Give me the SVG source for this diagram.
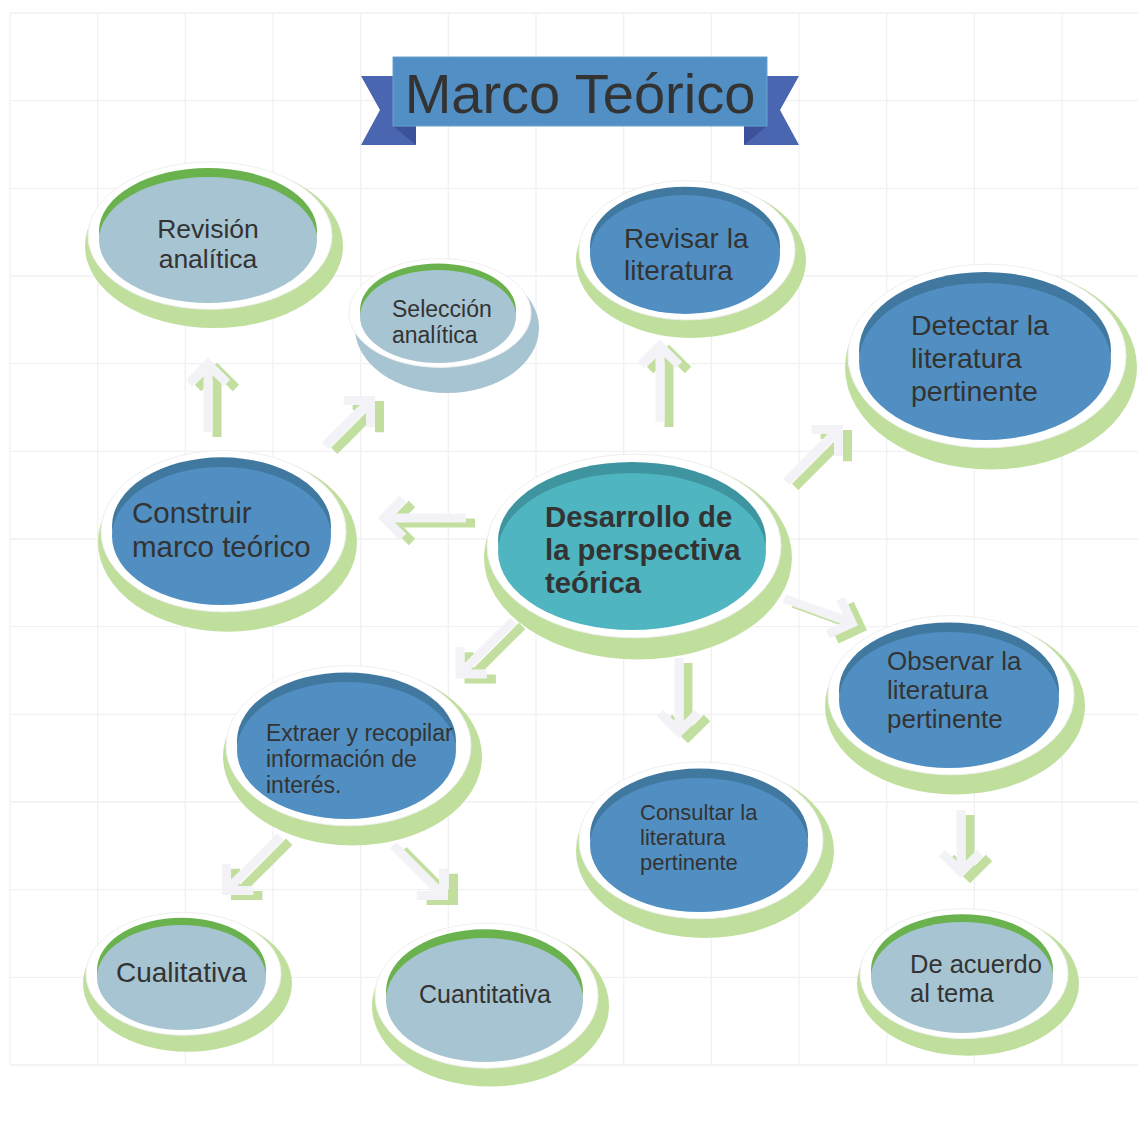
<svg xmlns="http://www.w3.org/2000/svg" width="1138" height="1147" viewBox="0 0 1138 1147">
<style>
.grid line{stroke:#f1f1f3;stroke-width:1.3}
.sh{fill:#c0df9d}
.shb{fill:#a7c4d2}
.wh{fill:#ffffff;stroke:#efefef;stroke-width:1}
.cl{fill:#6ab24e}
.fl{fill:#a7c4d2}
.cb{fill:#41789f}
.fb{fill:#518fc2}
.ct{fill:#3e959f}
.ft{fill:#4fb5c0}
text{font-family:"Liberation Sans",Arial,sans-serif;fill:#333333}
.b{font-weight:bold}
.aw{fill:none;stroke:#f3f3f7;stroke-width:9;stroke-linejoin:miter}
.ag{fill:none;stroke:#c2df9f;stroke-width:9;stroke-linejoin:miter}
</style>
<rect width="1138" height="1147" fill="#ffffff"/>
<g class="grid">
<line x1="10" y1="13" x2="10" y2="1065"/><line x1="97.7" y1="13" x2="97.7" y2="1065"/><line x1="185.3" y1="13" x2="185.3" y2="1065"/><line x1="273" y1="13" x2="273" y2="1065"/><line x1="360.7" y1="13" x2="360.7" y2="1065"/><line x1="448.3" y1="13" x2="448.3" y2="1065"/><line x1="536" y1="13" x2="536" y2="1065"/><line x1="623.7" y1="13" x2="623.7" y2="1065"/><line x1="711.3" y1="13" x2="711.3" y2="1065"/><line x1="799" y1="13" x2="799" y2="1065"/><line x1="886.7" y1="13" x2="886.7" y2="1065"/><line x1="974.3" y1="13" x2="974.3" y2="1065"/><line x1="1062" y1="13" x2="1062" y2="1065"/>
<line x1="10" y1="13" x2="1138" y2="13"/><line x1="10" y1="100.7" x2="1138" y2="100.7"/><line x1="10" y1="188.3" x2="1138" y2="188.3"/><line x1="10" y1="276" x2="1138" y2="276"/><line x1="10" y1="363.7" x2="1138" y2="363.7"/><line x1="10" y1="451.3" x2="1138" y2="451.3"/><line x1="10" y1="539" x2="1138" y2="539"/><line x1="10" y1="626.7" x2="1138" y2="626.7"/><line x1="10" y1="714.3" x2="1138" y2="714.3"/><line x1="10" y1="802" x2="1138" y2="802"/><line x1="10" y1="889.7" x2="1138" y2="889.7"/><line x1="10" y1="977.3" x2="1138" y2="977.3"/><line x1="10" y1="1065" x2="1138" y2="1065"/>
</g>
<g id="title">
<polygon points="361,76 416,76 416,145 361,145 380,110" fill="#4a66b0"/>
<polygon points="393,126 416,126 416,145" fill="#3b529a"/>
<polygon points="799,76 744,76 744,145 799,145 780,110" fill="#4a66b0"/>
<polygon points="767,126 744,126 744,145" fill="#3b529a"/>
<rect x="393" y="57" width="374" height="69" fill="#518fc4" stroke="#6aa2cf" stroke-width="1"/>
<text x="580" y="113" font-size="56" text-anchor="middle">Marco Teórico</text>
</g>
<g id="n-revision">
<ellipse class="sh" cx="214" cy="246" rx="129" ry="82"/>
<ellipse class="wh" cx="210" cy="235.6" rx="122" ry="73.7"/>
<ellipse class="cl" cx="208" cy="231" rx="109" ry="63"/>
<ellipse class="fl" cx="208" cy="240" rx="109" ry="63"/>
<text font-size="26.5" text-anchor="middle"><tspan x="208" y="238">Revisión</tspan><tspan x="208" y="268">analítica</tspan></text>
</g>
<g id="n-seleccion">
<ellipse class="shb" cx="447" cy="328" rx="92" ry="65"/>
<ellipse class="wh" cx="440" cy="313" rx="91" ry="54.4"/>
<ellipse class="cl" cx="438" cy="310" rx="78" ry="46.5"/>
<ellipse class="fl" cx="438" cy="316.5" rx="78" ry="46.5"/>
<text font-size="23"><tspan x="392" y="317">Selección</tspan><tspan x="392" y="343">analítica</tspan></text>
</g>
<g id="n-revisar">
<ellipse class="sh" cx="691" cy="260.5" rx="115" ry="77.4"/>
<ellipse class="wh" cx="687" cy="250.3" rx="108" ry="69.6"/>
<ellipse class="cb" cx="685" cy="246.2" rx="95" ry="59.5"/>
<ellipse class="fb" cx="685" cy="254.5" rx="95" ry="59.5"/>
<text font-size="28"><tspan x="624" y="248">Revisar la</tspan><tspan x="624" y="280">literatura</tspan></text>
</g>
<g id="n-detectar">
<ellipse class="sh" cx="991" cy="367.5" rx="146" ry="102"/>
<ellipse class="wh" cx="987" cy="356" rx="139" ry="91.8"/>
<ellipse class="cb" cx="985" cy="350.5" rx="126" ry="78.5"/>
<ellipse class="fb" cx="985" cy="361.5" rx="126" ry="78.5"/>
<text font-size="28.5"><tspan x="911" y="335">Detectar la</tspan><tspan x="911" y="368">literatura</tspan><tspan x="911" y="401">pertinente</tspan></text>
</g>
<g id="n-construir">
<ellipse class="sh" cx="227.5" cy="542" rx="129.5" ry="89.7"/>
<ellipse class="wh" cx="223.5" cy="531.2" rx="122.5" ry="80.7"/>
<ellipse class="cb" cx="221.5" cy="526.3" rx="109.5" ry="69"/>
<ellipse class="fb" cx="221.5" cy="536" rx="109.5" ry="69"/>
<text font-size="29.5"><tspan x="132" y="523">Construir</tspan><tspan x="132" y="557">marco teórico</tspan></text>
</g>
<g id="n-centro">
<ellipse class="sh" cx="638" cy="557.5" rx="154" ry="102"/>
<ellipse class="wh" cx="634" cy="546" rx="147" ry="91.8"/>
<ellipse class="ct" cx="632" cy="540.5" rx="134" ry="78.5"/>
<ellipse class="ft" cx="632" cy="551.5" rx="134" ry="78.5"/>
<text class="b" font-size="29.3"><tspan x="545" y="527">Desarrollo de</tspan><tspan x="545" y="560">la perspectiva</tspan><tspan x="545" y="593">teórica</tspan></text>
</g>
<g id="n-observar">
<ellipse class="sh" cx="955" cy="706" rx="130" ry="88.4"/>
<ellipse class="wh" cx="951" cy="695.2" rx="123" ry="79.6"/>
<ellipse class="cb" cx="949" cy="690.5" rx="110" ry="68"/>
<ellipse class="fb" cx="949" cy="700" rx="110" ry="68"/>
<text font-size="26"><tspan x="887" y="670">Observar la</tspan><tspan x="887" y="699">literatura</tspan><tspan x="887" y="728">pertinente</tspan></text>
</g>
<g id="n-acuerdo">
<ellipse class="sh" cx="968" cy="983.5" rx="111" ry="72.2"/>
<ellipse class="wh" cx="964" cy="973.6" rx="104" ry="65"/>
<ellipse class="cl" cx="962" cy="969.7" rx="91" ry="55.5"/>
<ellipse class="fl" cx="962" cy="977.5" rx="91" ry="55.5"/>
<text font-size="25.5"><tspan x="910" y="973">De acuerdo</tspan><tspan x="910" y="1002">al tema</tspan></text>
</g>
<g id="n-extraer">
<ellipse class="sh" cx="352.5" cy="756.5" rx="129.5" ry="89"/>
<ellipse class="wh" cx="348.5" cy="745.7" rx="122.5" ry="80.1"/>
<ellipse class="cb" cx="346.5" cy="740.9" rx="109.5" ry="68.5"/>
<ellipse class="fb" cx="346.5" cy="750.5" rx="109.5" ry="68.5"/>
<text font-size="23"><tspan x="266" y="741">Extraer y recopilar</tspan><tspan x="266" y="767">información de</tspan><tspan x="266" y="793">interés.</tspan></text>
</g>
<g id="n-cualitativa">
<ellipse class="sh" cx="187.5" cy="983.5" rx="104.5" ry="68.3"/>
<ellipse class="wh" cx="183.5" cy="973.8" rx="97.5" ry="61.4"/>
<ellipse class="cl" cx="181.5" cy="970.2" rx="84.5" ry="52.5"/>
<ellipse class="fl" cx="181.5" cy="977.5" rx="84.5" ry="52.5"/>
<text font-size="28" x="116" y="982">Cualitativa</text>
</g>
<g id="n-cuantitativa">
<ellipse class="sh" cx="490.5" cy="1006" rx="118.5" ry="80.6"/>
<ellipse class="wh" cx="486.5" cy="995.7" rx="111.5" ry="72.5"/>
<ellipse class="cl" cx="484.5" cy="991.3" rx="98.5" ry="62"/>
<ellipse class="fl" cx="484.5" cy="1000" rx="98.5" ry="62"/>
<text font-size="25" x="419" y="1003">Cuantitativa</text>
</g>
<g id="n-consultar">
<ellipse class="sh" cx="705" cy="851" rx="129" ry="87"/>
<ellipse class="wh" cx="701" cy="840.3" rx="122" ry="78.4"/>
<ellipse class="cb" cx="699" cy="835.6" rx="109" ry="67"/>
<ellipse class="fb" cx="699" cy="845" rx="109" ry="67"/>
<text font-size="22"><tspan x="640" y="820">Consultar la</tspan><tspan x="640" y="845">literatura</tspan><tspan x="640" y="870">pertinente</tspan></text>
</g>
<g id="connectors">
<path class="ag" transform="translate(217,369) rotate(-90)" d="M-68,0H-2M-19,-19L0,0L-19,19"/>
<path class="aw" transform="translate(208,364) rotate(-90)" d="M-68,0H-2M-19,-19L0,0L-19,19"/>
<path class="ag" transform="translate(379.5,405.5) rotate(-45)" d="M-64,0H-2M-19,-19L0,0L-19,19"/>
<path class="aw" transform="translate(370.5,400.5) rotate(-45)" d="M-64,0H-2M-19,-19L0,0L-19,19"/>
<path class="ag" transform="translate(393,523) rotate(180)" d="M-82,0H-2M-19,-19L0,0L-19,19"/>
<path class="aw" transform="translate(384,518) rotate(180)" d="M-82,0H-2M-19,-19L0,0L-19,19"/>
<path class="ag" transform="translate(669,351) rotate(-90)" d="M-76,0H-2M-19,-19L0,0L-19,19"/>
<path class="aw" transform="translate(660,346) rotate(-90)" d="M-76,0H-2M-19,-19L0,0L-19,19"/>
<path class="ag" transform="translate(847.5,434.5) rotate(-45)" d="M-74,0H-2M-19,-19L0,0L-19,19"/>
<path class="aw" transform="translate(838.5,429.5) rotate(-45)" d="M-74,0H-2M-19,-19L0,0L-19,19"/>
<path class="ag" transform="translate(861,628) rotate(20)" d="M-72,0H-2M-19,-19L0,0L-19,19"/>
<path class="aw" transform="translate(852,623) rotate(20)" d="M-72,0H-2M-19,-19L0,0L-19,19"/>
<path class="ag" transform="translate(688,737) rotate(90)" d="M-74,0H-2M-19,-19L0,0L-19,19"/>
<path class="aw" transform="translate(679,732) rotate(90)" d="M-74,0H-2M-19,-19L0,0L-19,19"/>
<path class="ag" transform="translate(469,679) rotate(135)" d="M-75,0H-2M-19,-19L0,0L-19,19"/>
<path class="aw" transform="translate(460,674) rotate(135)" d="M-75,0H-2M-19,-19L0,0L-19,19"/>
<path class="ag" transform="translate(235.5,895.5) rotate(135)" d="M-76,0H-2M-19,-19L0,0L-19,19"/>
<path class="aw" transform="translate(226.5,890.5) rotate(135)" d="M-76,0H-2M-19,-19L0,0L-19,19"/>
<path class="ag" transform="translate(453.5,900.5) rotate(45)" d="M-71,0H-2M-19,-19L0,0L-19,19"/>
<path class="aw" transform="translate(443.5,895.5) rotate(45)" d="M-71,0H-2M-19,-19L0,0L-19,19"/>
<path class="ag" transform="translate(970,877) rotate(90)" d="M-62,0H-2M-19,-19L0,0L-19,19"/>
<path class="aw" transform="translate(961,872) rotate(90)" d="M-62,0H-2M-19,-19L0,0L-19,19"/>
</g>
</svg>
